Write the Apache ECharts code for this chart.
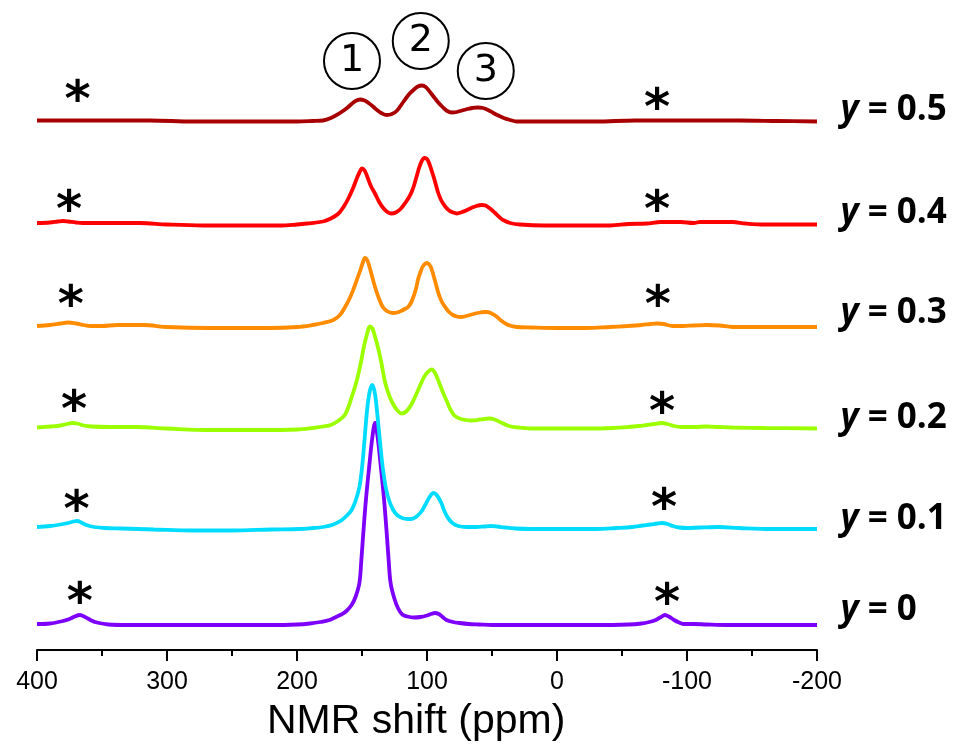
<!DOCTYPE html>
<html><head><meta charset="utf-8">
<script src="https://cdn.jsdelivr.net/npm/echarts/dist/echarts.min.js"></script>
<style>html,body{margin:0;padding:0;background:#fff}#c{width:965px;height:747px}</style>
</head><body><div id="c"></div>
<script>
// ---- data (chemical shift in ppm, intensity above each trace's own baseline) ----
const yLabels = ['0', '0.1', '0.2', '0.3', '0.4', '0.5'];
const offsets = [0, 96, 196.5, 298, 400.5, 503.5];

const ppm0 = [400,390,380,375,371,367,363,359,354,345,330,300,260,220,200,190,182,175,170,166,162,158,155,152,150.5,149,147,144.5,142,140,138,135.5,133,131,129.5,128,125,122,119,115,110,105,100,97,94,91,88,85,80,75,68,60,50,20,0,-30,-55,-65,-71,-76,-80,-83,-86,-90,-94,-98,-105,-115,-130,-160,-200];
const int0 = [1,1.5,4,6,8.5,10,8,5,2.5,0.5,0,0,0,0,0.5,1.5,3,5,8,10.5,14,20,28,42,65,92,125,158,188,202,188,158,125,92,65,42,26,16,10.5,8.5,7.5,8,9.5,11,12,11,8,5,3,2,1,0.5,0,0,0,0,0.5,1.5,3,5,8,10,8.5,5,2.5,1,1,0.5,0,0,0];

const ppm1 = [400,390,382,376,372,369,366,362,356,348,335,310,280,250,220,198,188,180,172,166,162,158,155,152,150,148,146,144,142,140,138,136,134,131.5,129,126,123,119,115,112,108,104,101,98,95,92,89,86,83,80,76,70,62,56,51,46,40,32,20,0,-30,-46,-58,-66,-72,-77,-81,-85,-89,-94,-100,-110,-125,-140,-165,-200];
const int1 = [2,3,4.5,6,7.5,8,6.5,4,2,1,0.5,-0.5,-1.5,-1.5,-0.5,0,1,2,4.5,8.5,13,19,28,42,61,90,120,138,144,135,112,85,61,40,28,19,14,11,10,10,12.5,18,25,32,36,33,26,16,9.5,5.5,3,2,2,2.5,3,2.5,1.5,0.5,0,0,0,1,2,3.5,4.5,5.5,6,5,3,1.5,1,1.5,2,1,0,0];

const ppm2 = [400,390,382,377,373,369,364,358,345,323,300,267,230,200,188,180,174,168,163,158,154,151,148.5,146,144,142,140,137.5,135,132,128.5,125,122,119.5,116,112,108,105,102,99,96.5,94,91,88,85,82,79,75,70,66,61,56,52,48,43,37,30,21,0,-25,-43,-55,-63,-69,-75,-80,-85,-90,-96,-105,-115,-125,-135,-160,-200];
const int2 = [1,2,3,4.5,5.5,5,3,2,1.5,1.5,0,-1.5,-1.5,-1,0.5,2,3.5,8,14,31,48,65,82,95,102,100,92,80,65,45,31,22,17,15,17,24,35,44,52,57,59,56,47,37,28,19,13,10,8.5,8,8.5,9.5,10,9,6,2.5,1,0,0,0,0.5,1.5,2.5,3.5,4.5,5.5,4.5,2.5,1.5,1.5,2,1.5,1,0.5,0];

const ppm3 = [400,390,382,376,370,364,359,350,338,318,300,267,240,221,200,188,180,172,167,163,159,156.5,154,151.5,149.5,147.7,146,144,141.5,139,136.5,134,131,128,126,123,120,117,114.5,112,110.5,108.5,107,105,103,100,97.5,96,94,91,88.5,86,83,80,77,74.5,71,67,63,59,56,54,51,47,43,39,35,31,20,0,-23,-40,-54,-65,-72,-77,-82,-89,-97,-105,-115,-125,-135,-160,-200];
const int3 = [1,2,3.5,4.5,3.5,2,1,1,2,2,0,-1,-1,-1,0,2,4,7,12,20,30,38,47,56,64,69,67,59,47,36,27,20,16,14.5,14,14.5,16,18,20,25,30,38,47,55,61,64,61,56,47,33,25,20,15,12,10.5,10,10.5,12,13.5,14.5,15,15,14,11,6.5,3,1,0,-0.5,-1,-1,0,1,2,3,3.5,3,1,1,1.5,2,1.5,0,0,0];

const ppm4 = [400,390,384,380,376,370,365,355,341,321,300,272,240,213,200,192,180,174,168,164,160.5,157,154,152,150,148,146,143,140,137,134,131,127.7,124,120,116.5,114,112,110,108,106,104,102,100,98,95,93,91.5,89,86,83,80,77,74,70,66,62,58,55,52,48,44,41.5,36,28.5,10,-15,-41,-55,-69,-80,-95,-105,-110,-122,-135,-145,-160,-200];
const int4 = [1.5,2,3,3.5,3,2,1.5,1.5,1.5,1.5,0,-1,-1,-1,0,1,3,6,11,18,26,36,46,52,56,54,48,38,31,23,17,13,11,12,16,22,27,32,39,48,57,63.5,66.5,65.5,60,48,39,32,24,18,14,12,11,12,14,16.5,18.5,19.5,19,16.5,12,7,4.5,1.5,0,-1,-1,-1,0.5,1,2.5,2.5,1.5,2.5,2.5,2.5,1,0,0];

const ppm5 = [400,360,313,280,240,200,188,180,174,167,162,158,155,151.5,148,145,141.5,138,134.5,131,127,123,118,114,110,107,104,101,98,95,92,88,84.5,81,77,73,69,65,61,57,53,49,46,41,36,31,20,0,-30,-60,-100,-140,-170,-200];
const int5 = [1,1,1,0,0,0,0.5,1,3.5,8.5,13,17.5,20.5,22,21,18.5,15,11,8,6.5,7.5,11,20,27,32,35,36,34.5,30,25,20,14.5,10.5,9,9.5,11,12.5,13.5,14,13.5,11.5,8.5,6.5,3.5,1.5,0,0,0,0,1,1,1,0.5,0];

// spinning-sideband asterisks (ppm, level) and circled peak labels
const starPpm   = [367, -84.6, 369.5, -82.3, 371.5, -80.8, 374, -77.5, 375.4, -77, 368.7, -77];
const starLevel = [33, 32, 125, 127, 224.5, 223.3, 330, 330, 425, 425, 535, 527];
const circPpm   = [157.7, 104.8, 54.8];
const circLevel = [564, 584, 554];
const circText  = ['1', '2', '3'];

const xTicks = { min: -200, max: 400, interval: 100 };

// ---- build ----
const ppms = [ppm0, ppm1, ppm2, ppm3, ppm4, ppm5];
const ints = [int0, int1, int2, int3, int4, int5];
const colors = ['#7D00FA', '#00DCFF', '#9BFF00', '#FF8C00', '#FF0000', '#A80000'];
const labelRaise = [15, 10, 10.5, 14, 11, 11.5];

const series = ppms.map((p, i) => ({
  type: 'line',
  name: 'y = ' + yLabels[i],
  data: p.map((x, j) => [x, offsets[i] + ints[i][j]]),
  showSymbol: false,
  smooth: 0.35,
  lineStyle: { color: colors[i], width: 3.8 },
  itemStyle: { color: colors[i] },
  z: 2 + i
}));

// trace names at the right end of each trace
series.push({
  type: 'scatter',
  data: yLabels.map((t, i) => [xTicks.min, offsets[i] + labelRaise[i]]),
  symbolSize: 1,
  clip: false,
  z: 20,
  itemStyle: { color: 'rgba(0,0,0,0)', opacity: 1 },
  label: {
    show: true, position: 'right', distance: 23,
    formatter: (d) => '{i|y}{b| = ' + yLabels[d.dataIndex] + '}',
    rich: {
      i: { fontFamily: 'Open Sans', fontStyle: 'italic', fontWeight: 'bold', fontSize: 35, color: '#000' },
      b: { fontFamily: 'Open Sans', fontWeight: 'bold', fontSize: 35, color: '#000' }
    }
  }
});

series.push({
  type: 'scatter',
  data: starPpm.map((x, j) => [x, starLevel[j]]),
  symbolSize: 1,
  itemStyle: { color: 'rgba(0,0,0,0)', opacity: 1 },
  clip: false,
  z: 20,
  label: { show: true, position: 'inside', formatter: '*', fontFamily: 'DejaVu Sans', fontWeight: 'bold', fontSize: 50, color: '#000', offset: [0, 13] }
});
series.push({
  type: 'scatter',
  data: circPpm.map((x, j) => [x, circLevel[j]]),
  symbol: 'circle',
  symbolSize: 56,
  clip: false,
  z: 20,
  itemStyle: { color: 'rgba(255,255,255,0)', borderColor: '#000', borderWidth: 2, opacity: 1 },
  label: { show: true, position: 'inside', formatter: (d) => circText[d.dataIndex], fontFamily: 'DejaVu Sans', fontSize: 38, color: '#000' }
});

const chart = echarts.init(document.getElementById('c'), null, { renderer: 'canvas' });
chart.setOption({
  animation: false,
  backgroundColor: '#fff',
  title: { text: 'NMR shift (ppm)', left: 262, top: 696, textStyle: { fontFamily: 'Liberation Sans', fontWeight: 'normal', fontSize: 41, color: '#000' } },
  grid: { left: 37, right: 148, top: 0, bottom: 97 },
  xAxis: {
    type: 'value', inverse: true, min: xTicks.min, max: xTicks.max, interval: xTicks.interval,
    axisLine: { show: true, onZero: false, lineStyle: { color: '#000', width: 2 } },
    axisTick: { show: true, inside: false, length: 11, lineStyle: { color: '#000', width: 2 } },
    minorTick: { show: true, splitNumber: 2, length: 6, lineStyle: { color: '#000', width: 2 } },
    splitLine: { show: false },
    axisLabel: { fontFamily: 'Liberation Sans', fontSize: 25, color: '#000', margin: 20 }
  },
  yAxis: { type: 'value', min: -25, max: 625, show: false, splitLine: { show: false } },
  series: series
});
</script></body></html>
